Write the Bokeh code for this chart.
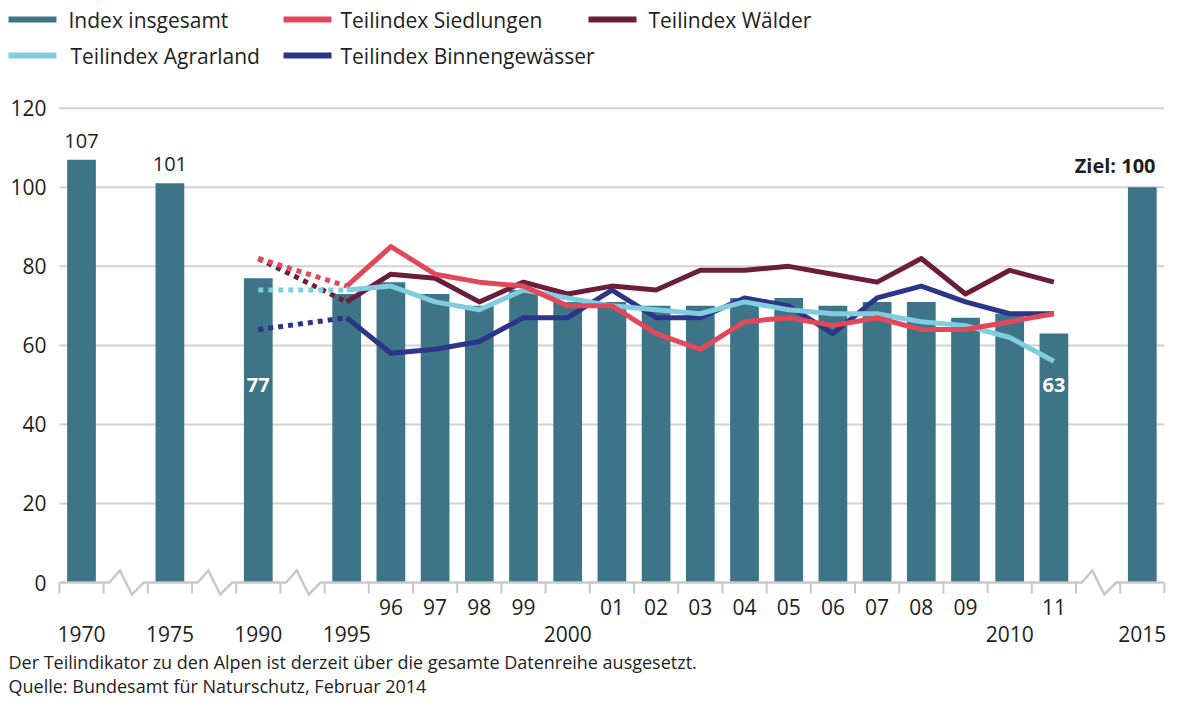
from bokeh.plotting import figure
from bokeh.models import Range1d, ColumnDataSource
from bokeh.embed import file_html
from bokeh.resources import INLINE
from bokeh.core.properties import value

# ---------------- data ----------------
years = [1970, 1975, 1990, 1995, 1996, 1997, 1998, 1999, 2000, 2001, 2002,
         2003, 2004, 2005, 2006, 2007, 2008, 2009, 2010, 2011, 2015]
index_total = [107, 101, 77, 73, 76, 73, 70, 74, 71, 71, 70,
               70, 72, 72, 70, 71, 71, 67, 68, 63, 100]
tick_row1 = ["", "", "", "", "96", "97", "98", "99", "", "01", "02",
             "03", "04", "05", "06", "07", "08", "09", "", "11", ""]
tick_row2 = ["1970", "1975", "1990", "1995", "", "", "", "", "2000", "", "",
             "", "", "", "", "", "", "", "2010", "", "2015"]
y_ticks = [0, 20, 40, 60, 80, 100, 120]

sub_years = [1990, 1995, 1996, 1997, 1998, 1999, 2000, 2001, 2002,
             2003, 2004, 2005, 2006, 2007, 2008, 2009, 2010, 2011]
siedlungen = [82, 75, 85, 78, 76, 75, 70, 70, 63, 59, 66, 67, 65, 67, 64, 64, 66, 68]
waelder = [82, 71, 78, 77, 71, 76, 73, 75, 74, 79, 79, 80, 78, 76, 82, 73, 79, 76]
agrarland = [74, 74, 75, 71, 69, 74, 72, 70, 69, 68, 71, 69, 68, 68, 66, 65, 62, 56]
binnen = [64, 67, 58, 59, 61, 67, 67, 74, 67, 67, 72, 70, 63, 72, 75, 71, 68, 68]

series_names = ["Index insgesamt", "Teilindex Siedlungen", "Teilindex Wälder",
                "Teilindex Agrarland", "Teilindex Binnengewässer"]
note_text = "Der Teilindikator zu den Alpen ist derzeit über die gesamte Datenreihe ausgesetzt."
source_text = "Quelle: Bundesamt für Naturschutz, Februar 2014"
target_label = "Ziel: 100"

# ---------------- styles ----------------
C_BAR = "#3d7488"
C_SIED = "#e2475a"
C_WALD = "#6b1e3b"
C_AGRAR = "#80cde0"
C_BINNEN = "#2c3587"
C_AXIS = "#c8c8c8"
C_GRID = "#d2d2d2"
C_TEXT = "#1e1e1e"
FONT = "Open Sans"

# ---------------- slot positions on a broken axis ----------------
pos = []
gaps = []
slot = 0
for i, y in enumerate(years):
    if i > 0:
        if y - years[i - 1] == 1:
            slot += 1
        else:
            gaps.append(slot + 1)
            slot += 2
    pos.append(slot)
pos_of = dict(zip(years, pos))
sub_pos = [pos_of[y] for y in sub_years]

# ---------------- geometry (pixels within the figure) ----------------
W, H = 1171, 697
PX_X = 44.2          # pixels per slot
PX_Y = 3.952         # pixels per index point
SLOT0_PX = 81.0      # x of first slot centre
ZERO_PX = 582        # y of value 0


def dx(px):
    return (px - SLOT0_PX) / PX_X


def dy(py):
    return (ZERO_PX - py) / PX_Y


p = figure(width=W, height=H,
           x_range=Range1d(dx(0), dx(W)),
           y_range=Range1d(dy(H), dy(0)),
           x_axis_location=None, y_axis_location=None,
           output_backend="svg", toolbar_location=None,
           min_border=0, outline_line_color=None,
           background_fill_color="white", border_fill_color="white")
p.grid.visible = False

x_lo, x_hi = pos[0] - 0.5, pos[-1] + 0.5

# ---------------- y grid and y labels ----------------
grid_vals = [t for t in y_ticks if t > 0]
p.segment(x0=[x_lo] * len(grid_vals), y0=grid_vals, x1=[x_hi] * len(grid_vals), y1=grid_vals,
          line_color=C_GRID, line_width=2)
p.text(x=[dx(46)] * len(y_ticks), y=y_ticks, text=[str(t) for t in y_ticks],
       text_align="right", text_baseline="middle", text_font=value(FONT),
       text_font_size="21px", text_color=C_TEXT)

# ---------------- bars ----------------
p.vbar(x=pos, top=index_total, bottom=0, width=0.65, fill_color=C_BAR, line_color=None)

# ---------------- axis line with breaks ----------------
runs = []
start = prev = pos[0]
for q in pos[1:]:
    if q - prev > 1:
        runs.append((start, prev))
        start = q
    prev = q
runs.append((start, prev))
p.segment(x0=[a - 0.5 for a, b in runs], y0=[0] * len(runs),
          x1=[b + 0.5 for a, b in runs], y1=[0] * len(runs),
          line_color=C_AXIS, line_width=2.5)
bounds = sorted(set([q - 0.5 for q in pos] + [q + 0.5 for q in pos]))
tick_len = 11 / PX_Y
p.segment(x0=bounds, y0=[0] * len(bounds), x1=bounds, y1=[-tick_len] * len(bounds),
          line_color=C_AXIS, line_width=2)
amp = 12 / PX_Y
zx = [[g - 0.5, g - 0.37, g - 0.13, g + 0.14, g + 0.41, g + 0.5] for g in gaps]
zy = [[0, 0, amp, -amp, 0, 0] for g in gaps]
p.multi_line(xs=zx, ys=zy, line_color=C_AXIS, line_width=2.5, line_join="miter")

# ---------------- lines ----------------
for vals, col in [(waelder, C_WALD), (binnen, C_BINNEN), (agrarland, C_AGRAR), (siedlungen, C_SIED)]:
    p.line(x=sub_pos[:2], y=vals[:2], line_color=col, line_width=5, line_dash="5 5", line_cap="butt")
    p.line(x=sub_pos[1:], y=vals[1:], line_color=col, line_width=5, line_join="round")

# ---------------- bar value labels ----------------
p.text(x=pos[:2], y=index_total[:2], text=[str(v) for v in index_total[:2]],
       text_align="center", text_baseline="middle", y_offset=-19,
       text_font=value(FONT), text_font_size="20px", text_color=C_TEXT)
inside_idx = [years.index(1990), years.index(2011)]
p.text(x=[pos[i] for i in inside_idx], y=[50, 50], text=[str(index_total[i]) for i in inside_idx],
       text_align="center", text_baseline="middle", text_font=value(FONT),
       text_font_size="20px", text_font_style="bold", text_color="white")
p.text(x=[pos[-1] + 0.3], y=[index_total[-1]], text=[target_label], text_align="right",
       text_baseline="middle", y_offset=-22, text_font=value(FONT), text_font_size="20px",
       text_font_style="bold", text_color=C_TEXT)

# ---------------- x tick labels (two rows) ----------------
ticks = ColumnDataSource(dict(x=pos, r1=tick_row1, r2=tick_row2))
p.text(x="x", y=dy(606), text="r1", source=ticks, text_align="center", text_baseline="middle",
       text_font=value(FONT), text_font_size="21px", text_color=C_TEXT)
p.text(x="x", y=dy(633), text="r2", source=ticks, text_align="center", text_baseline="middle",
       text_font=value(FONT), text_font_size="21px", text_color=C_TEXT)

# ---------------- footer ----------------
p.text(x=[dx(8), dx(8)], y=[dy(661), dy(685)], text=[note_text, source_text],
       text_align="left", text_baseline="middle", text_font=value(FONT),
       text_font_size="18px", text_color=C_TEXT)

# ---------------- legend ----------------
leg_sw_left = [8, 283, 588, 8, 283]
leg_txt_left = [68, 340, 648, 70, 340]
leg_row_y = [19, 19, 19, 55, 55]
leg_colors = [C_BAR, C_SIED, C_WALD, C_AGRAR, C_BINNEN]
p.segment(x0=[dx(v) for v in leg_sw_left], x1=[dx(v + 48) for v in leg_sw_left],
          y0=[dy(v) for v in leg_row_y], y1=[dy(v) for v in leg_row_y],
          line_color=leg_colors, line_width=6, line_cap="butt")
p.text(x=[dx(v) for v in leg_txt_left], y=[dy(v) for v in leg_row_y], text=series_names,
       text_align="left", text_baseline="middle", text_font=value(FONT),
       text_font_size="21px", text_color=C_TEXT)

open("out.html", "w").write(file_html(p, INLINE))
